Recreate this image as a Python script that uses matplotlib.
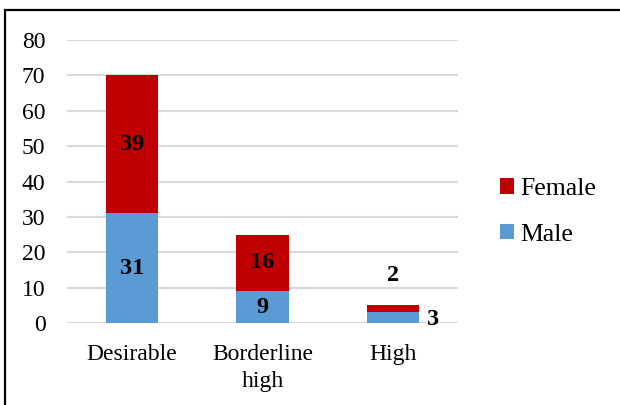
import matplotlib
matplotlib.use("Agg")
import matplotlib.pyplot as plt
from matplotlib.patches import Rectangle

categories = ["Desirable", "Borderline\nhigh", "High"]
male = [31, 9, 3]
female = [39, 16, 2]
y_ticks = [0, 10, 20, 30, 40, 50, 60, 70, 80]

RED = "#C00000"
BLUE = "#5B9BD5"
GRID = "#D9D9D9"

plt.rcParams["font.family"] = ["Liberation Serif", "DejaVu Serif"]

W, H = 620, 405
fig = plt.figure(figsize=(W / 100, H / 100), dpi=100)
ax = fig.add_axes([67 / W, (H - 323) / H, (458 - 67) / W, (323 - 40) / H])

x = list(range(len(categories)))
bar_m = ax.bar(x, male, width=0.4, color=BLUE, label="Male", zorder=3)
bar_f = ax.bar(x, female, width=0.4, bottom=male, color=RED, label="Female", zorder=3)

ax.set_xlim(-0.5, len(categories) - 0.5)
ax.set_ylim(0, 80)
ax.set_yticks(y_ticks)
ax.set_xticks(x)
ax.set_xticklabels(categories, fontsize=17, linespacing=1.37)
ax.tick_params(axis="y", labelsize=17, length=0, pad=15.5)
ax.tick_params(axis="x", length=0, pad=15)
ax.yaxis.grid(True, color=GRID, linewidth=1.5, zorder=0)
ax.set_axisbelow(True)
for s in ax.spines.values():
    s.set_visible(False)

# value labels inside the segments, the small third bar labelled outside
VAL_FS = 17.5
for i in range(len(categories)):
    m, f = male[i], female[i]
    if i < 2:
        ax.text(i, m / 2, str(m), ha="center", va="center", fontsize=VAL_FS, fontweight="bold", zorder=4)
        ax.text(i, m + f / 2, str(f), ha="center", va="center", fontsize=VAL_FS, fontweight="bold", zorder=4)
    else:
        ax.annotate(str(f), xy=(i, m + f / 2), xytext=(0, 24), textcoords="offset points",
                    ha="center", va="center", fontsize=VAL_FS, fontweight="bold")
        ax.annotate(str(m), xy=(i, m / 2), xytext=(29, -1.5), textcoords="offset points",
                    ha="center", va="center", fontsize=VAL_FS, fontweight="bold")

handles = [bar_f, bar_m]
leg = fig.legend(handles, ["Female", "Male"], loc="center left",
                 bbox_to_anchor=(500 / W, (H - 212) / H), frameon=False,
                 fontsize=18.5, handlelength=0.545, handleheight=0.545,
                 handletextpad=0.23, labelspacing=0.92, borderpad=0, borderaxespad=0)

# chart border (top and left edges visible)
fig.add_artist(Rectangle((5 / W, -0.1), 1.2, (H - 10) / H + 0.1, transform=fig.transFigure,
                         fill=False, edgecolor="black", linewidth=1.6))

fig.savefig("out.png", dpi=100)
